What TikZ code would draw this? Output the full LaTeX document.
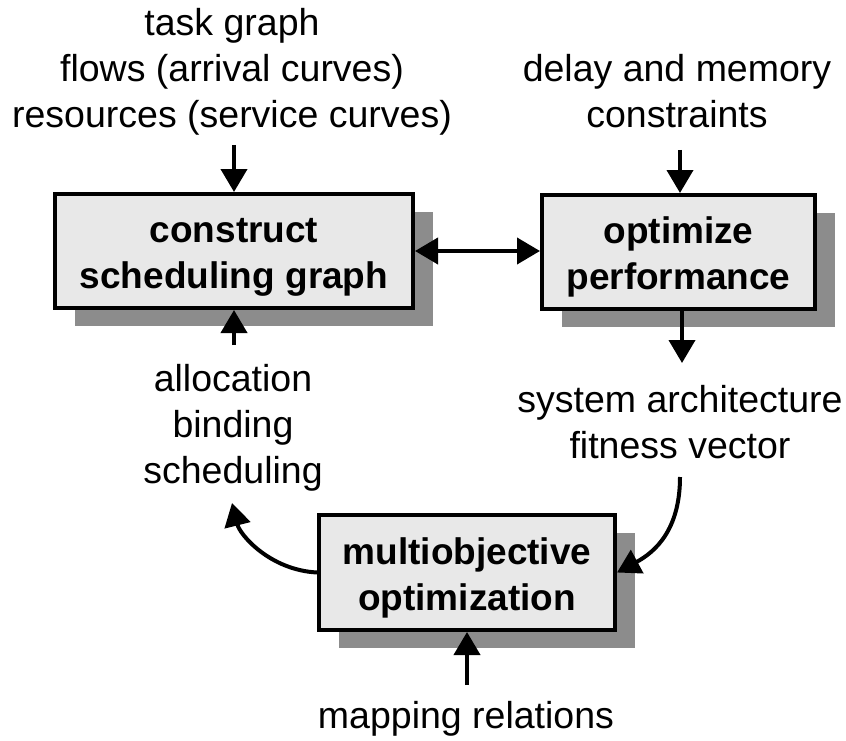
\documentclass[tikz,border=0pt]{standalone}
\usepackage{fontspec}
\setmainfont{Liberation Sans}
\usetikzlibrary{arrows.meta,shadows}
\definecolor{boxfill}{RGB}{232,232,232}
\definecolor{shadowgray}{RGB}{140,140,140}
% strut that lowers the first line of a box a little
\newcommand{\firstline}{\rule{0pt}{37pt}}
\begin{document}
\begin{tikzpicture}[x=1pt,y=-1pt,
  proc/.style={draw=black, line width=4pt, fill=boxfill,
    font=\fontsize{37}{46}\selectfont\bfseries, align=center, inner sep=0pt,
    drop shadow={shadow xshift=20pt, shadow yshift=-18pt, fill=shadowgray, opacity=1}},
  lbl/.style={font=\fontsize{37.5}{46}\selectfont, align=center, inner sep=0pt, anchor=base},
  flow/.style={line width=4pt, -{Triangle[length=23pt,width=26pt]}},
]
\useasboundingbox (0,0) rectangle (846,741);

% process boxes
\node[proc, minimum width=358pt, minimum height=114pt] (build) at (234,251) {\firstline construct\\scheduling graph};
\node[proc, minimum width=273pt, minimum height=114pt] (perf) at (678.5,252) {\firstline optimize\\performance};
\node[proc, minimum width=296pt, minimum height=115pt] (moo) at (467,572.5) {\firstline multiobjective\\optimization};

% inputs and outputs (placed at the baseline of their last line)
\node[lbl] (inputs) at (232,128) {task graph\\flows (arrival curves)\\resources (service curves)};
\node[lbl] (constr) at (677,128) {delay and memory\\constraints};
\node[lbl] (fitness) at (680,458) {system architecture\\fitness vector};
\node[lbl] (decisions) at (233,483) {allocation\\binding\\scheduling};
\node[lbl] (mapping) at (466,728) {mapping relations};

% free ends of the connectors
\coordinate (inTail) at (234,145);
\coordinate (cTail) at (680,150);
\coordinate (fitTip) at (682,363);
\coordinate (fitTail) at (680,477);
\coordinate (decTail) at (234,345);
\coordinate (decTip) at (232,503);
\coordinate (mapTail) at (467,685);

% connectors
\draw[flow] (inTail) -- (build.north);
\draw[flow] (cTail) -- (cTail |- perf.north);
\draw[line width=4pt, {Triangle[length=23pt,width=26pt]}-{Triangle[length=23pt,width=26pt]}] (build.east) -- (build.east -| perf.west);
\draw[flow] (perf.south -| fitTip) -- (fitTip);
\draw[flow] (fitTail) .. controls (680,530) and (655,552) .. (moo.east);
\draw[flow] (moo.west) .. controls (270,570) and (240,535) .. (decTip);
\draw[flow] (decTail) -- (build.south);
\draw[flow] (mapTail) -- (moo.south);
\end{tikzpicture}
\end{document}
